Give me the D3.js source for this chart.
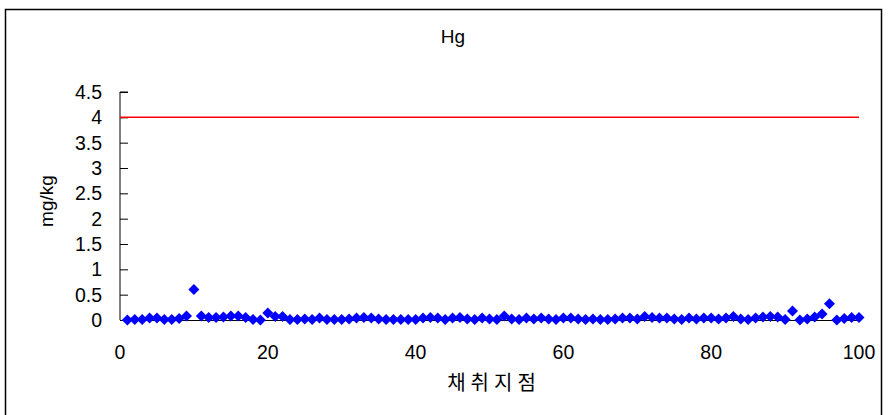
<!DOCTYPE html>
<html><head><meta charset="utf-8">
<script src="https://cdn.jsdelivr.net/npm/d3@7"></script>
<style>
html,body{margin:0;padding:0;background:#fff;}
svg{display:block;}
text{font-family:"Liberation Sans",Arial,sans-serif;fill:#000;}
</style></head>
<body>
<svg id="chart" width="889" height="415"></svg>
<script>
const title = "Hg";
const xLabel = "채취지점";
const yLabel = "mg/kg";
const xTicks = [0, 20, 40, 60, 80, 100];
const yTicks = [0, 0.5, 1, 1.5, 2, 2.5, 3, 3.5, 4, 4.5];
const limitValue = 4;
const limitRange = [0, 100];
const sampleIds = d3.range(1, 101);
const hgValues = [
  0.00, 0.01, 0.01, 0.04, 0.04, 0.01, 0.01, 0.03, 0.08, 0.60,
  0.08, 0.05, 0.05, 0.06, 0.08, 0.08, 0.05, 0.01, 0.00, 0.14,
  0.07, 0.07, 0.01, 0.01, 0.02, 0.01, 0.04, 0.01, 0.01, 0.01,
  0.02, 0.04, 0.05, 0.04, 0.02, 0.01, 0.01, 0.01, 0.01, 0.01,
  0.04, 0.05, 0.04, 0.01, 0.04, 0.05, 0.02, 0.01, 0.04, 0.02,
  0.01, 0.08, 0.02, 0.01, 0.04, 0.02, 0.04, 0.02, 0.01, 0.04,
  0.04, 0.02, 0.01, 0.02, 0.01, 0.01, 0.02, 0.04, 0.04, 0.02,
  0.07, 0.05, 0.04, 0.04, 0.02, 0.01, 0.04, 0.02, 0.04, 0.04,
  0.02, 0.04, 0.07, 0.02, 0.01, 0.04, 0.06, 0.07, 0.06, 0.01,
  0.18, 0.00, 0.02, 0.06, 0.12, 0.32, 0.00, 0.03, 0.05, 0.05
];

const svg = d3.select("#chart");
// outer border
svg.append("rect").attr("x", 5.5).attr("y", 9.5).attr("width", 876).attr("height", 420)
  .attr("fill", "none").attr("stroke", "#000").attr("stroke-width", 1.5);

const x = d3.scaleLinear().domain([0, 100]).range([120, 859]);
const y = d3.scaleLinear().domain([0, 4.5]).range([320, 92]);

// y axis (inside ticks)
const yAxis = svg.append("g").attr("transform", `translate(${x(0)},0)`)
  .call(d3.axisRight(y).tickValues(yTicks).tickSize(8).tickFormat(""));
yAxis.select(".domain").attr("d", `M8,${y(4.5)}H0V${y(0)}`).attr("stroke", "#000");
yAxis.selectAll(".tick line").attr("stroke", "#000");
svg.append("g").selectAll("text").data(yTicks).join("text")
  .attr("x", 102).attr("y", d => y(d)).attr("dy", "0.36em")
  .attr("text-anchor", "end").attr("font-size", 19.5).text(d => d3.format("")(d));

// x axis
const xAxis = svg.append("g").attr("transform", `translate(0,${y(0)})`)
  .call(d3.axisBottom(x).tickValues(xTicks).tickSize(0).tickFormat(""));
xAxis.select(".domain").attr("stroke", "#000");
svg.append("g").selectAll("text").data(xTicks).join("text")
  .attr("x", d => x(d)).attr("y", 352).attr("dy", "0.36em")
  .attr("text-anchor", "middle").attr("font-size", 19.5).text(d => d);

// limit line
svg.append("line").attr("x1", x(limitRange[0])).attr("x2", x(limitRange[1]))
  .attr("y1", y(limitValue)).attr("y2", y(limitValue))
  .attr("stroke", "#ff0000").attr("stroke-width", 1.5);

// markers
const r = 5.5;
svg.append("g").selectAll("path").data(sampleIds.map((id, i) => [id, hgValues[i]])).join("path")
  .attr("transform", d => `translate(${x(d[0])},${y(d[1])})`)
  .attr("d", `M0,${-r}L${r},0L0,${r}L${-r},0Z`)
  .attr("fill", "#0000ff");

// titles
svg.append("text").attr("x", 453).attr("y", 36).attr("dy", "0.36em")
  .attr("text-anchor", "middle").attr("font-size", 19).text(title);
svg.append("text").attr("x", 494).attr("y", 383).attr("dy", "0.36em")
  .attr("text-anchor", "middle").attr("font-size", 20).attr("letter-spacing", 5)
  .style("font-family", "'Noto Sans CJK KR',sans-serif").text(xLabel);
svg.append("text").attr("transform", "translate(46,201) rotate(-90)").attr("dy", "0.36em")
  .attr("text-anchor", "middle").attr("font-size", 19).text(yLabel);
</script>
</body></html>
